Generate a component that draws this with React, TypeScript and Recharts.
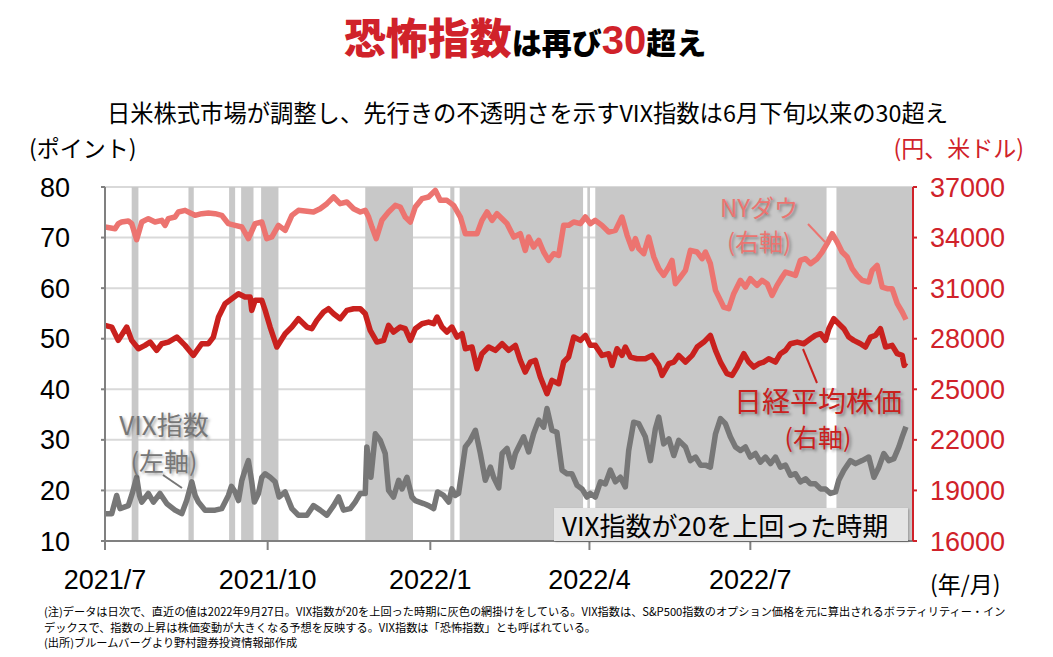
import { LineChart, Line, XAxis, YAxis, CartesianGrid, ReferenceArea } from 'recharts';

// x は 2021/7/1 からの経過日数
const tickDays = [0, 92, 184, 274, 365];
const tickLabels = ['2021/7', '2021/10', '2022/1', '2022/4', '2022/7'];
const leftTicks = [10, 20, 30, 40, 50, 60, 70, 80];
const rightTicks = [16000, 19000, 22000, 25000, 28000, 31000, 34000, 37000];

// VIX指数 (左軸) [日数, ポイント]
const vix: [number, number][] = [
  [0, 15.4], [3.8, 15.4], [6.6, 19.0], [8.5, 16.4], [13.2, 17.0], [15.5, 19.5], [17.9, 22.6], [19.5, 19.0],
  [20.8, 17.7], [24.5, 19.4], [27.4, 17.7], [31.1, 19.4], [34.9, 17.4], [39.6, 16.1], [43.4, 15.4], [46.2, 18.0],
  [49.1, 21.7], [51.0, 19.0], [52.8, 17.7], [56.6, 16.1], [62.3, 16.1], [66.0, 16.4], [69.8, 19.0], [71.5, 20.8],
  [73.6, 19.7], [75.5, 18.0], [77.4, 22.0], [79.2, 24.0], [81.1, 25.9], [83.0, 21.7], [84.5, 17.7], [86.8, 19.4],
  [88.7, 22.6], [90.6, 23.3], [93.4, 22.6], [96.2, 21.7], [98.5, 18.7], [101.9, 19.7], [105.7, 16.4], [109.4, 15.1],
  [114.2, 15.1], [117.9, 17.0], [121.7, 16.1], [125.5, 15.1], [129.3, 17.0], [132.1, 18.7], [134.9, 16.1], [138.7, 16.4],
  [141.5, 17.7], [144.4, 19.4], [147.2, 19.4], [148.1, 28.6], [150.4, 22.6], [152.9, 31.2], [155.7, 29.9], [158.5, 27.3],
  [160.4, 20.0], [163.2, 18.7], [166.1, 22.0], [168.0, 20.3], [170.8, 22.6], [173.6, 18.7], [175.5, 18.0], [180.2, 17.4],
  [183.0, 17.0], [185.9, 16.4], [188.1, 19.7], [191.5, 19.0], [194.4, 17.7], [196.2, 20.3], [198.1, 19.0], [200.0, 19.4],
  [201.9, 24.0], [203.8, 28.6], [206.6, 29.9], [209.5, 31.9], [212.3, 27.3], [215.1, 22.0], [218.0, 24.6], [219.8, 22.6],
  [222.7, 20.5], [224.6, 27.3], [227.4, 28.3], [230.2, 24.6], [232.1, 27.3], [233.9, 28.6], [236.8, 30.6], [239.6, 27.6],
  [242.4, 31.2], [245.3, 33.9], [248.1, 32.5], [250.0, 36.2], [252.8, 31.9], [255.6, 31.5], [258.5, 24.0], [261.3, 23.3],
  [264.1, 23.3], [267.0, 21.0], [269.8, 20.3], [272.6, 18.7], [274.5, 19.4], [277.3, 18.7], [280.2, 21.7], [283.0, 21.3],
  [285.8, 24.0], [288.7, 21.7], [291.5, 22.6], [294.3, 20.7], [296.2, 27.9], [299.0, 33.5], [301.9, 33.2], [305.6, 30.6],
  [308.5, 25.9], [311.3, 32.2], [313.2, 34.5], [316.0, 29.2], [318.9, 30.2], [321.7, 26.9], [324.5, 29.9], [328.3, 28.6],
  [331.1, 25.9], [334.0, 26.6], [336.8, 25.0], [339.6, 25.0], [342.4, 24.6], [345.3, 31.2], [348.1, 34.2], [350.9, 33.2],
  [353.7, 30.6], [356.6, 28.6], [359.4, 27.9], [362.2, 28.6], [365.0, 26.6], [367.9, 27.3], [370.7, 25.6], [373.5, 26.6],
  [376.4, 25.3], [379.2, 26.6], [382.0, 24.6], [384.9, 25.0], [387.7, 23.0], [390.5, 23.3], [393.3, 21.7], [396.2, 22.3],
  [399.0, 21.3], [401.8, 21.3], [404.7, 20.3], [407.5, 20.3], [410.3, 19.4], [413.2, 19.7], [415.0, 22.0], [417.9, 24.0],
  [421.6, 25.9], [424.5, 25.3], [428.2, 25.9], [432.0, 26.6], [434.9, 22.6], [437.7, 24.6], [440.5, 27.3], [443.3, 25.9],
  [446.2, 26.3], [449.0, 28.6], [450.9, 30.6], [453, 32.6],
];

// NYダウ (右軸) [日数, 米ドル]
const nyDow: [number, number][] = [
  [0, 34626], [5.7, 34527], [7.5, 34824], [9.4, 34923], [13.2, 34982], [15.1, 34824], [17.9, 33875], [20.8, 34923],
  [24.5, 35121], [28.3, 34923], [32.1, 35022], [34.0, 34725], [35.8, 35121], [39.6, 35220], [41.5, 35516], [45.3, 35615],
  [49.1, 35418], [50.9, 35319], [54.7, 35418], [58.5, 35457], [62.3, 35418], [66.0, 35319], [69.8, 34824], [73.6, 34725],
  [77.4, 34626], [81.1, 33934], [84.9, 34824], [88.7, 34923], [91.5, 33934], [94.3, 34033], [98.1, 34725], [101.9, 34429],
  [105.7, 35319], [109.4, 35615], [117.9, 35516], [121.7, 35714], [125.5, 36011], [129.3, 36407], [133.0, 36011], [136.8, 36110],
  [140.6, 35714], [144.4, 35516], [147.2, 35615], [149.1, 35220], [151.0, 34626], [153.4, 33934], [156.6, 35022], [160.4, 35516],
  [164.2, 35912], [167.0, 35813], [169.8, 35220], [172.7, 34923], [175.5, 35813], [179.3, 36308], [183.0, 36407], [186.8, 36802],
  [189.6, 36209], [193.4, 36209], [197.2, 35912], [201.0, 35220], [203.8, 34231], [207.6, 34231], [210.4, 34231], [213.2, 35022],
  [216.1, 35516], [218.9, 35022], [221.7, 35418], [224.6, 35121], [227.4, 34824], [231.2, 34033], [234.9, 34231], [237.7, 33242],
  [239.6, 34033], [242.4, 33440], [245.3, 33835], [248.1, 33143], [250.9, 32648], [253.8, 33044], [256.6, 32945], [259.4, 34725],
  [262.2, 34725], [265.1, 34923], [268.9, 34824], [271.7, 35220], [274.5, 34824], [277.3, 35022], [281.1, 34725], [284.9, 34330],
  [288.7, 34429], [292.4, 35220], [295.3, 34132], [298.1, 33341], [300.0, 33934], [301.9, 33341], [304.7, 33044], [307.5, 34033],
  [310.4, 32846], [313.2, 32154], [316.0, 31758], [318.9, 32253], [320.7, 32648], [322.6, 31264], [325.5, 31659], [328.3, 32055],
  [331.1, 33242], [334.9, 33143], [337.7, 32747], [339.6, 33143], [342.4, 32451], [345.3, 30868], [348.1, 30275], [349.9, 29879],
  [352.8, 29780], [355.6, 30670], [359.4, 31462], [362.2, 31066], [365.0, 31561], [368.8, 31165], [371.6, 31462], [374.5, 31264],
  [377.3, 30572], [380.1, 31165], [383.0, 31659], [384.9, 31956], [387.7, 31857], [390.5, 31758], [393.3, 32648], [396.2, 32747],
  [399.0, 32451], [402.8, 32747], [405.6, 33143], [408.4, 33637], [411.3, 34231], [414.1, 33736], [416.9, 33143], [419.8, 32846],
  [422.6, 32154], [425.4, 31758], [428.2, 31462], [432.0, 31363], [433.9, 32055], [436.7, 32352], [439.6, 31066], [442.4, 30967],
  [445.2, 30967], [448.1, 30077], [450.9, 29583], [453, 29134],
];

// 日経平均株価 (右軸) [日数, 円]
const nikkei: [number, number][] = [
  [0, 28791], [3.8, 28692], [7.5, 27901], [12.3, 28692], [15.1, 27901], [18.9, 27407], [22.6, 27605], [25.5, 27802],
  [29.2, 27308], [32.1, 27703], [35.8, 27802], [40.6, 28099], [45.3, 27605], [50.0, 27011], [54.7, 27703], [58.5, 27703],
  [61.3, 28099], [64.2, 29286], [67.9, 30077], [71.7, 30374], [75.5, 30670], [79.2, 30473], [82.1, 30473], [83.0, 29682],
  [84.9, 30275], [88.7, 30275], [90.6, 29682], [93.4, 28692], [97.2, 27506], [101.9, 28297], [105.7, 28692], [109.4, 29187],
  [114.2, 28692], [117.0, 28593], [119.8, 29088], [123.6, 29583], [126.4, 29780], [129.3, 29484], [133.0, 29187], [136.8, 29681],
  [140.6, 29780], [144.4, 29780], [147.2, 29484], [150.0, 28495], [153.8, 27802], [157.6, 27901], [160.4, 28791], [163.2, 28396],
  [167.0, 28692], [169.8, 28593], [172.7, 27901], [175.5, 28593], [179.3, 28890], [183.0, 28989], [185.9, 28890], [187.8, 29286],
  [190.6, 28692], [193.4, 28396], [196.2, 28692], [199.1, 28099], [201.9, 28297], [203.8, 27407], [207.6, 27506], [210.4, 26220],
  [213.2, 27110], [217.0, 27506], [220.8, 27308], [224.6, 27703], [228.3, 27308], [232.1, 27605], [234.9, 26714], [237.7, 26022],
  [240.6, 26616], [243.4, 26714], [246.2, 25725], [250.0, 24736], [252.8, 25528], [256.6, 25330], [259.4, 26616], [262.2, 26912],
  [265.1, 28099], [268.9, 27901], [271.7, 28198], [274.5, 27605], [277.3, 27605], [281.1, 27011], [284.9, 27110], [286.8, 26418],
  [289.6, 27407], [292.4, 27011], [294.3, 27506], [297.2, 26912], [300.9, 26813], [305.6, 26813], [309.4, 27011], [313.2, 26418],
  [315.1, 25825], [318.9, 26517], [321.7, 26616], [324.5, 27011], [328.3, 26616], [332.1, 27011], [334.9, 27506], [338.7, 27802],
  [342.4, 28198], [345.3, 27308], [348.1, 26616], [351.8, 25923], [354.7, 25825], [357.5, 26319], [361.3, 27110], [364.1, 26616],
  [366.9, 26319], [369.8, 26517], [372.6, 26616], [375.4, 26813], [379.2, 26616], [382.0, 27110], [384.9, 27308], [387.7, 27703],
  [391.5, 27802], [395.2, 27703], [399.0, 28000], [401.8, 28198], [404.7, 28297], [407.5, 27901], [409.4, 28593], [412.2, 29187],
  [415.0, 28890], [417.9, 28593], [420.7, 28099], [423.5, 27901], [427.3, 27703], [430.1, 27506], [433.0, 28099], [435.8, 28198],
  [438.6, 28593], [441.5, 27506], [445.2, 27605], [448.1, 27110], [450.9, 27011], [452.0, 26418], [453, 26571],
];

// VIX指数が20を上回った時期 [開始日数, 終了日数]
const vixAbove20: [number, number][] = [
  [15.1, 18.9], [47.2, 50.2], [70.2, 73.6], [77.0, 84.0], [88.3, 98.1], [147.2, 174.2], [195.3, 197.6],
  [200.6, 270.4], [272.8, 274.3], [277.3, 408.1], [413.7, 457],
];

const toRows = (s: [number, number][]) => s.map(([day, value]) => ({ day, value }));

const JP = "'Noto Sans CJK JP', sans-serif";
const NUM = "'Liberation Sans', Arial, 'Noto Sans CJK JP', sans-serif";
const RED = '#d0222a';
const shadow = '2px 2px 3px rgba(0,0,0,0.35)';

export default function App() {
  return (
    <div style={{ position: 'absolute', left: 0, top: 0, width: 1053, height: 657, background: '#fff', fontFamily: JP }}>
      <LineChart width={1053} height={657} margin={{ top: 187, right: 0, bottom: 0, left: 0 }}>
        <CartesianGrid yAxisId="left" vertical={false} stroke="#d9d9d9" strokeWidth={2} />
        <XAxis
          dataKey="day"
          type="number"
          domain={[0, 457]}
          ticks={tickDays}
          allowDataOverflow
          height={116}
          tickFormatter={(d: number) => tickLabels[tickDays.indexOf(d)]}
          axisLine={{ stroke: '#808080', strokeWidth: 2 }}
          tickLine={{ stroke: '#808080', strokeWidth: 2 }}
          tickSize={9}
          tickMargin={20}
          tick={{ fontSize: 27, fill: '#000', fontFamily: NUM }}
        />
        <YAxis
          yAxisId="left"
          width={105}
          domain={[10, 80]}
          ticks={leftTicks}
          allowDataOverflow
          axisLine={{ stroke: '#808080', strokeWidth: 2 }}
          tickLine={{ stroke: '#808080', strokeWidth: 2 }}
          tickSize={4}
          tickMargin={31}
          tick={{ fontSize: 27, fill: '#000', fontFamily: NUM }}
        />
        <YAxis
          yAxisId="right"
          orientation="right"
          width={140}
          domain={[16000, 37000]}
          ticks={rightTicks}
          allowDataOverflow
          axisLine={{ stroke: RED, strokeWidth: 2 }}
          tickLine={{ stroke: RED, strokeWidth: 2 }}
          tickSize={4}
          tickMargin={13}
          tick={{ fontSize: 27, fill: RED, fontFamily: NUM, textAnchor: 'start' }}
        />
        {vixAbove20.map(([a, b], i) => (
          <ReferenceArea key={i} yAxisId="left" x1={a} x2={b} y1={10} y2={80} fill="#c8c8c8" fillOpacity={1} stroke="none" />
        ))}
        <Line yAxisId="left" data={toRows(vix)} dataKey="value" type="linear" stroke="#777777" strokeWidth={5.5}
          strokeLinejoin="round" dot={false} activeDot={false} isAnimationActive={false} />
        <Line yAxisId="right" data={toRows(nikkei)} dataKey="value" type="linear" stroke="#c9211e" strokeWidth={5.5}
          strokeLinejoin="round" dot={false} activeDot={false} isAnimationActive={false} />
        <Line yAxisId="right" data={toRows(nyDow)} dataKey="value" type="linear" stroke="#ec7470" strokeWidth={5.5}
          strokeLinejoin="round" dot={false} activeDot={false} isAnimationActive={false} />
      </LineChart>

      {/* 注記の引き出し線 */}
      <svg width={1053} height={657} style={{ position: 'absolute', left: 0, top: 0, pointerEvents: 'none' }}>
        <line x1={808} y1={224} x2={825} y2={242} stroke="#ec7470" strokeWidth={2} />
        <line x1={803} y1={349} x2={817} y2={383} stroke="#c9211e" strokeWidth={2} />
        <line x1={163} y1={475} x2={182} y2={488} stroke="#777777" strokeWidth={2} />
      </svg>

      {/* タイトル */}
      <div style={{ position: 'absolute', left: 0, top: 11, width: 1050, textAlign: 'center', fontWeight: 900, lineHeight: '50px', whiteSpace: 'nowrap' }}>
        <span style={{ color: RED, fontSize: 42 }}>恐怖指数</span>
        <span style={{ color: '#000', fontSize: 30 }}>は再び</span>
        <span style={{ color: RED, fontSize: 40, fontFamily: NUM }}>30</span>
        <span style={{ color: '#000', fontSize: 30 }}>超え</span>
      </div>
      <div style={{ position: 'absolute', left: 0, top: 95, width: 1055, textAlign: 'center', fontSize: 23.3, color: '#000', whiteSpace: 'nowrap' }}>
        日米株式市場が調整し、先行きの不透明さを示すVIX指数は6月下旬以来の30超え
      </div>
      <div style={{ position: 'absolute', left: 29, top: 130, fontSize: 23, color: '#000' }}>(ポイント)</div>
      <div style={{ position: 'absolute', right: 29, top: 130, fontSize: 23, color: RED }}>(円、米ドル)</div>
      <div style={{ position: 'absolute', left: 930, top: 566, fontSize: 23, color: '#000' }}>(年/月)</div>

      {/* 系列ラベル */}
      <div style={{ position: 'absolute', left: 716, top: 190, width: 86, textAlign: 'center', fontSize: 24, color: '#ec7470', textShadow: shadow, lineHeight: '34px' }}>
        NYダウ<br />(右軸)
      </div>
      <div style={{ position: 'absolute', left: 730, top: 383, width: 176, textAlign: 'center', fontSize: 28, color: '#c9211e', textShadow: shadow, lineHeight: '35px' }}>
        日経平均株価<br /><span style={{ fontSize: 25 }}>(右軸)</span>
      </div>
      <div style={{ position: 'absolute', left: 108, top: 406, width: 112, textAlign: 'center', fontSize: 26, color: '#777777', textShadow: shadow, lineHeight: '36px' }}>
        VIX指数<br /><span style={{ fontSize: 25 }}>(左軸)</span>
      </div>

      {/* 網掛けの説明 */}
      <div style={{ position: 'absolute', left: 554, top: 508, width: 354, height: 33, background: '#e4e4e4', boxShadow: '1px 1px 2px rgba(0,0,0,0.25)', fontSize: 26, lineHeight: '33px', color: '#000', paddingLeft: 8, boxSizing: 'border-box', whiteSpace: 'nowrap' }}>
        VIX指数が20を上回った時期
      </div>

      {/* 注 */}
      <div style={{ position: 'absolute', left: 44, top: 604, fontSize: 11.2, lineHeight: '15.5px', color: '#000', whiteSpace: 'nowrap' }}>
        (注)データは日次で、直近の値は2022年9月27日。VIX指数が20を上回った時期に灰色の網掛けをしている。VIX指数は、S&amp;P500指数のオプション価格を元に算出されるボラティリティー・イン<br />
        デックスで、指数の上昇は株価変動が大きくなる予想を反映する。VIX指数は「恐怖指数」とも呼ばれている。<br />
        (出所)ブルームバーグより野村證券投資情報部作成
      </div>
    </div>
  );
}
